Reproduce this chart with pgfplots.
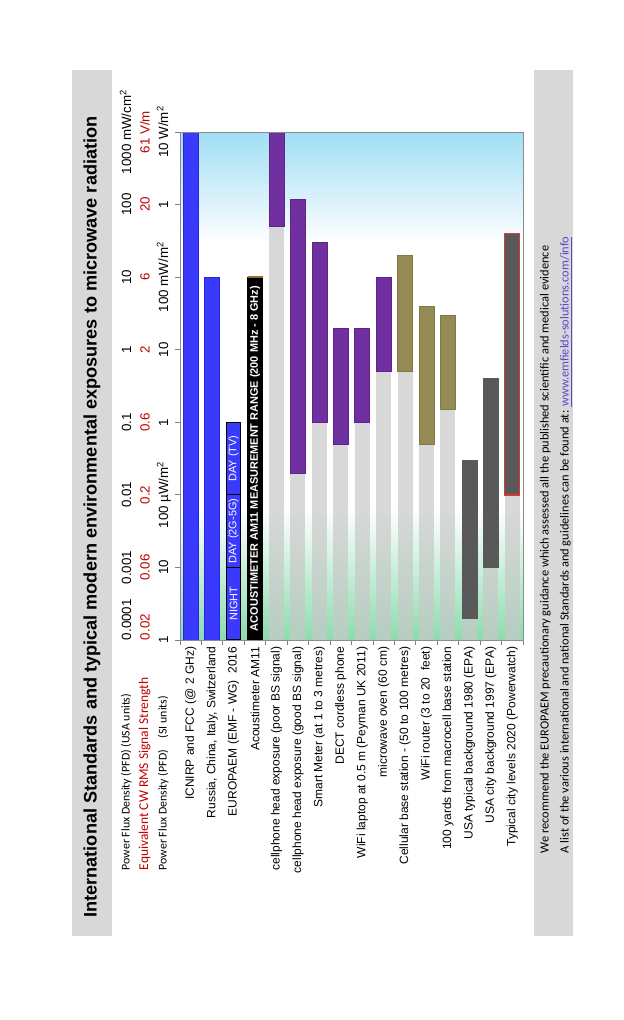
\documentclass[border=0pt]{standalone}
\usepackage{fontspec}
\setmainfont{Liberation Sans}
\newfontfamily\calfont{Carlito}
\usepackage{pgfplots}
\pgfplotsset{compat=1.18}
\definecolor{cStrip}{RGB}{216,216,216}
\definecolor{cBlue}{RGB}{58,58,255}
\definecolor{cBlueD}{RGB}{40,40,210}
\definecolor{cPurple}{RGB}{112,48,160}
\definecolor{cPurpleD}{RGB}{95,35,140}
\definecolor{cOlive}{RGB}{148,138,84}
\definecolor{cOliveD}{RGB}{130,120,70}
\definecolor{cDark}{RGB}{89,89,89}
\definecolor{cGray}{RGB}{200,200,200}
\definecolor{cRed}{RGB}{192,0,0}
\definecolor{cBorderRed}{RGB}{215,60,60}
\definecolor{cBrown}{RGB}{150,110,40}
\definecolor{bgBlue}{RGB}{160,222,245}
\definecolor{bgGreen}{RGB}{140,220,175}
\definecolor{cLink}{RGB}{90,70,200}
\pgfdeclareverticalshading{plotbg}{100bp}{color(0bp)=(bgGreen); color(25bp)=(bgGreen); color(38bp)=(white); color(64bp)=(white); color(75bp)=(bgBlue); color(100bp)=(bgBlue)}
% floating bar: style, left, right, low, high
\newcommand{\fbar}[5]{\addplot[#1] coordinates {(#2,#4) (#3,#4) (#3,#5) (#2,#5)} -- cycle;}
\begin{document}
\begin{tikzpicture}
\path[use as bounding box] (0,0) rectangle (468pt,-765pt);
\fill[cStrip] (54pt,-52.5pt) rectangle (84pt,-702pt);
\fill[cStrip] (400.5pt,-52.5pt) rectangle (429.75pt,-702pt);
\node[rotate=90, font=\fontsize{13.6}{16}\selectfont\bfseries] at (69pt,-387.75pt) {International Standards and typical modern environmental exposures to microwave radiation};
\node[rotate=90, anchor=mid west, font=\calfont\fontsize{8.9}{10}\selectfont] at (94.5pt,-656.25pt) {Power Flux Density (PFD) (USA units)};
\node[rotate=90, anchor=mid west, text=cRed, font=\calfont\fontsize{10.1}{11}\selectfont] at (108.4pt,-656.25pt) {Equivalent CW RMS Signal Strength};
\node[rotate=90, anchor=mid west, font=\calfont\fontsize{8.9}{10}\selectfont] at (122.25pt,-656.25pt) {Power Flux Density (PFD)\quad(SI units)};
\node[rotate=90, anchor=mid west, font=\calfont\fontsize{9.3}{11}\selectfont] at (408.75pt,-643.5pt) {We recommend the EUROPAEM precautionary guidance which assessed all the published scientific and medical evidence};
\node[rotate=90, anchor=mid west, font=\calfont\fontsize{9.3}{11}\selectfont] at (423.75pt,-643.5pt) {A list of the various international and national Standards and guidelines can be found at: \textcolor{cLink}{\underline{www.emfields-solutions.com/info}}};
\begin{axis}[
  at={(135pt,-480pt)}, anchor=south west,
  scale only axis, width=257.25pt, height=381pt,
  ymode=log, ymin=1, ymax=1e7,
  xmin=-0.5, xmax=15.5,
  ytick={1,10,100,1000,10000,100000,1000000,10000000},
  yminorticks=false,
  yticklabels={
    {\hphantom{0.0001}0.0001\\\textcolor{cRed}{\hphantom{0.02}0.02}\\1\strut},
    {0.001\\\textcolor{cRed}{0.06}\\10\strut},
    {0.01\\\textcolor{cRed}{0.2}\\100 µW/m\textsuperscript{2}\strut},
    {0.1\\\textcolor{cRed}{0.6}\\1\strut},
    {1\\\textcolor{cRed}{2}\\10\strut},
    {10\\\textcolor{cRed}{6}\\100 mW/m\textsuperscript{2}\strut},
    {100\\\textcolor{cRed}{20}\\1\strut},
    {1000 mW/cm\textsuperscript{2}\\\textcolor{cRed}{61 V/m}\\10 W/m\textsuperscript{2}\strut}},
  xtick={-0.5,0.5,...,15.5},
  x tick label as interval,
  xticklabels={
    {ICNIRP and FCC (@ 2 GHz)},
    {Russia, China, Italy, Switzerland},
    {EUROPAEM (EMF - WG)\ \ 2016},
    {Acoustimeter AM11},
    {cellphone head exposure (poor BS signal)},
    {cellphone head exposure (good BS signal)},
    {Smart Meter (at 1 to 3 metres)},
    {DECT cordless phone},
    {WiFi laptop at 0.5 m (Peyman UK 2011)},
    {microwave oven (60 cm)},
    {Cellular base station - (50 to 100 metres)},
    {WiFi router (3 to 20\ \ feet)},
    {100 yards from macrocell base station},
    {USA typical background 1980 (EPA)},
    {USA city background 1997 (EPA)},
    {Typical city levels 2020 (Powerwatch)}},
  tick align=outside, tick pos=left,
  major tick length=3.5pt,
  tick style={black!50, line width=0.6pt},
  axis line style={black!45, line width=0.6pt},
  axis background/.style={shade, shading=plotbg},
  axis on top,
  yticklabel style={rotate=90, anchor=south, align=center, font=\fontsize{10}{13.9}\selectfont, inner sep=1pt},
  xticklabel style={rotate=90, anchor=east, font=\fontsize{9}{10}\selectfont, inner sep=1.5pt},
  clip=false,
]
% light grey lower parts
\fbar{fill=cGray, fill opacity=0.7, draw=none}{3.65}{4.35}{1}{5e5}
\fbar{fill=cGray, fill opacity=0.7, draw=none}{4.65}{5.35}{1}{200}
\fbar{fill=cGray, fill opacity=0.7, draw=none}{5.65}{6.35}{1}{1000}
\fbar{fill=cGray, fill opacity=0.7, draw=none}{6.65}{7.35}{1}{500}
\fbar{fill=cGray, fill opacity=0.7, draw=none}{7.65}{8.35}{1}{1000}
\fbar{fill=cGray, fill opacity=0.7, draw=none}{8.65}{9.35}{1}{5000}
\fbar{fill=cGray, fill opacity=0.7, draw=none}{9.65}{10.35}{1}{5000}
\fbar{fill=cGray, fill opacity=0.7, draw=none}{10.65}{11.35}{1}{500}
\fbar{fill=cGray, fill opacity=0.7, draw=none}{11.65}{12.35}{1}{1500}
\fbar{fill=cGray, fill opacity=0.7, draw=none}{12.65}{13.35}{1}{2}
\fbar{fill=cGray, fill opacity=0.7, draw=none}{13.65}{14.35}{1}{10}
\fbar{fill=cGray, fill opacity=0.7, draw=none}{14.65}{15.35}{1}{100}
% standards
\fbar{fill=cBlue, draw=cBlueD, line width=0.4pt}{-0.35}{0.35}{1}{1e7}
\fbar{fill=cBlue, draw=cBlueD, line width=0.4pt}{0.65}{1.35}{1}{1e5}
\fbar{fill=cBlue, draw=black, line width=0.8pt}{1.67}{2.33}{1}{10}
\fbar{fill=cBlue, draw=black, line width=0.8pt}{1.67}{2.33}{10}{100}
\fbar{fill=cBlue, draw=black, line width=0.8pt}{1.67}{2.33}{100}{1000}
\fbar{fill=black, draw=black, line width=0.4pt}{2.65}{3.35}{1}{1e5}
\addplot[draw=cBrown, line width=1pt] coordinates {(2.65,1e5) (3.35,1e5)};
% devices
\fbar{fill=cPurple, draw=cPurpleD, line width=0.4pt}{3.65}{4.35}{5e5}{1e7}
\fbar{fill=cPurple, draw=cPurpleD, line width=0.4pt}{4.65}{5.35}{200}{1.2e6}
\fbar{fill=cPurple, draw=cPurpleD, line width=0.4pt}{5.65}{6.35}{1000}{3e5}
\fbar{fill=cPurple, draw=cPurpleD, line width=0.4pt}{6.65}{7.35}{500}{2e4}
\fbar{fill=cPurple, draw=cPurpleD, line width=0.4pt}{7.65}{8.35}{1000}{2e4}
\fbar{fill=cPurple, draw=cPurpleD, line width=0.4pt}{8.65}{9.35}{5000}{1e5}
% base stations
\fbar{fill=cOlive, draw=cOliveD, line width=0.4pt}{9.65}{10.35}{5000}{2e5}
\fbar{fill=cOlive, draw=cOliveD, line width=0.4pt}{10.65}{11.35}{500}{4e4}
\fbar{fill=cOlive, draw=cOliveD, line width=0.4pt}{11.65}{12.35}{1500}{3e4}
% backgrounds
\fbar{fill=cDark, draw=cDark, line width=0.4pt}{12.65}{13.35}{2}{300}
\fbar{fill=cDark, draw=cDark, line width=0.4pt}{13.65}{14.35}{10}{4000}
\fbar{fill=cDark, draw=cBorderRed, line width=1pt}{14.65}{15.35}{100}{4e5}
% annotations
\node[rotate=90, text=white, font=\fontsize{8.2}{9}\selectfont] at (axis cs:2,3.162) {NIGHT};
\node[rotate=90, text=white, font=\fontsize{8.2}{9}\selectfont] at (axis cs:2,31.62) {DAY (2G-5G)};
\node[rotate=90, text=white, font=\fontsize{8.2}{9}\selectfont] at (axis cs:2,316.2) {DAY (TV)};
\node[rotate=90, text=white, font=\fontsize{8.2}{9}\selectfont\bfseries] at (axis cs:3,316.2) {ACOUSTIMETER AM11 MEASUREMENT RANGE (200 MHz - 8 GHz)};
\end{axis}
\end{tikzpicture}
\end{document}
